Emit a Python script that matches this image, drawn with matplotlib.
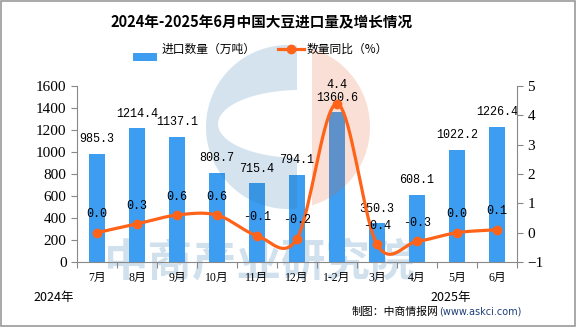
import numpy as np
import matplotlib.pyplot as plt
from matplotlib.patches import Polygon, Rectangle
from matplotlib.transforms import Affine2D

plt.rcParams['font.family'] = ['Noto Sans CJK SC', 'DejaVu Sans']

months = ["7月", "8月", "9月", "10月", "11月", "12月", "1-2月", "3月", "4月", "5月", "6月"]
volume = [985.3, 1214.4, 1137.1, 808.7, 715.4, 794.1, 1360.6, 350.3, 608.1, 1022.2, 1226.4]
yoy = [0.0, 0.3, 0.6, 0.6, -0.1, -0.2, 4.4, -0.4, -0.3, 0.0, 0.1]

BAR = "#3d9df0"
LINE = "#ff6319"
W, H = 576, 327


def smooth(x, y, n=20):
    # cardinal spline through the points, just for the look of the line
    x = np.asarray(x, float)
    y = np.asarray(y, float)
    px = np.concatenate([[2 * x[0] - x[1]], x, [2 * x[-1] - x[-2]]])
    py = np.concatenate([[2 * y[0] - y[1]], y, [2 * y[-1] - y[-2]]])
    xs, ys = [], []
    t = np.linspace(0, 1, n)
    for i in range(1, len(px) - 2):
        p0, p1, p2, p3 = py[i - 1], py[i], py[i + 1], py[i + 2]
        m1 = 0.5 * (p2 - p0)
        m2 = 0.5 * (p3 - p1)
        h00 = 2 * t**3 - 3 * t**2 + 1
        h10 = t**3 - 2 * t**2 + t
        h01 = -2 * t**3 + 3 * t**2
        h11 = t**3 - t**2
        ys.append(h00 * p1 + h10 * m1 + h01 * p2 + h11 * m2)
        xs.append(px[i] + t * (px[i + 1] - px[i]))
    return np.concatenate(xs), np.concatenate(ys)


def arc(cx, cy, rx, ry, a0, a1, n=120):
    a = np.radians(np.linspace(a0, a1, n))
    return np.c_[cx + rx * np.cos(a), cy + ry * np.sin(a)]


fig = plt.figure(figsize=(W / 100, H / 100), dpi=100)
fig.patches.append(Rectangle((0.001, 0.002), 0.997, 0.995, transform=fig.transFigure,
                             fill=False, edgecolor="#999999", lw=1.2))
# pixel coords, origin top-left
px = Affine2D().scale(1 / W, -1 / H).translate(0, 1) + fig.transFigure

ax = fig.add_axes([77 / W, 1 - 262 / H, 440 / W, 176 / H])
ax.patch.set_alpha(0)
x = np.arange(len(months))

# faded watermark: "C" logo + company name
ca = np.degrees(np.arccos(9 / 82))
ia = np.degrees(np.arccos(-3 / 82))
c_shape = np.vstack([arc(288, 127, 82, 82, ca, 360 - ca),
                     arc(300, 124, 82, 34, 360 - ia, ia)])
ax.add_patch(Polygon(c_shape, closed=True, transform=px, facecolor="#2975ad", alpha=0.2,
                     edgecolor="none", zorder=3, clip_on=False))
pa = np.degrees(np.arccos(24 / 82))
ax.add_patch(Polygon(arc(288, 127, 82, 82, -pa, pa), closed=True, transform=px,
                     facecolor="#e5612e", alpha=0.2, edgecolor="none", zorder=3,
                     clip_on=False))
ax.text(259, 262, "中商产业研究院", transform=px, fontsize=32, color="#2975ad",
        alpha=0.22, ha="center", va="center", fontweight="bold", zorder=1, clip_on=False)

ax.bar(x, volume, width=0.4, color=BAR, zorder=2)
for xi, v in zip(x, volume):
    ax.text(xi, v + 80, f"{v:.1f}", ha="center", va="bottom", fontsize=8.5,
            family="Liberation Mono", zorder=5)

ax.set_xlim(-0.5, len(months) - 0.5)
ax.set_ylim(0, 1600)
ax.set_yticks(range(0, 1601, 200))
ax.set_xticks(np.arange(-0.5, len(months), 1))
ax.set_xticklabels([])
ax.tick_params(axis="x", length=4, color="#888888")
for xi, m in zip(x, months):
    ax.text(xi, -0.09, m, transform=ax.get_xaxis_transform(), ha="center", va="center",
            fontsize=8.5, family=["Liberation Serif", "Noto Sans CJK SC"])
ax.tick_params(axis="y", length=4, color="#888888", labelsize=11)
for lab in ax.get_yticklabels():
    lab.set_family("Liberation Serif")
for s in ["top", "right"]:
    ax.spines[s].set_visible(False)
ax.spines["left"].set_color("#888888")
ax.spines["bottom"].set_color("#888888")

ax2 = ax.twinx()
ax2.set_ylim(-1, 5)
ax2.set_yticks(range(-1, 6))
ax2.tick_params(axis="y", length=4, color="#888888", labelsize=11)
for lab in ax2.get_yticklabels():
    lab.set_family("Liberation Serif")
for s in ["top", "left", "bottom"]:
    ax2.spines[s].set_visible(False)
ax2.spines["right"].set_color("#888888")
sx, sy = smooth(x, yoy)
ax2.plot(sx, sy, color=LINE, lw=2.3, zorder=3)
ax2.plot(x, yoy, "o", color=LINE, ms=6, zorder=4)
for xi, v in zip(x, yoy):
    ax2.text(xi, v + 0.42, f"{v:.1f}", ha="center", va="bottom", fontsize=8.5,
             family="Liberation Mono")

# legend
fig.patches.append(Rectangle((133, 53), 24, 8, transform=px, facecolor=BAR, edgecolor="none"))
fig.text(162 / W, 1 - 49 / H, "进口数量（万吨）", fontsize=8.5, va="center")
fig.lines.append(plt.Line2D([278, 304], [49, 49], transform=px, color=LINE, lw=2.3))
fig.lines.append(plt.Line2D([291], [49], transform=px, color=LINE, marker="o", ms=6))
fig.text(307 / W, 1 - 49 / H, "数量同比（%）", fontsize=8.5, va="center")

fig.text(262 / W, 1 - 22 / H, "2024年-2025年6月中国大豆进口量及增长情况", ha="center",
         va="center", fontsize=10.5, fontweight="bold")
fig.text(33 / W, 1 - 298 / H, "2024年", fontsize=9, va="center")
fig.text(430 / W, 1 - 298 / H, "2025年", fontsize=9, va="center")
fig.text(352 / W, 1 - 312 / H, "制图：中商情报网", fontsize=7.8, va="center")
fig.text(439 / W, 1 - 312 / H, "(www.askci.com)", fontsize=7, va="center", color="#1f3f7a",
         family="DejaVu Sans")

fig.savefig("out.png", dpi=100)
